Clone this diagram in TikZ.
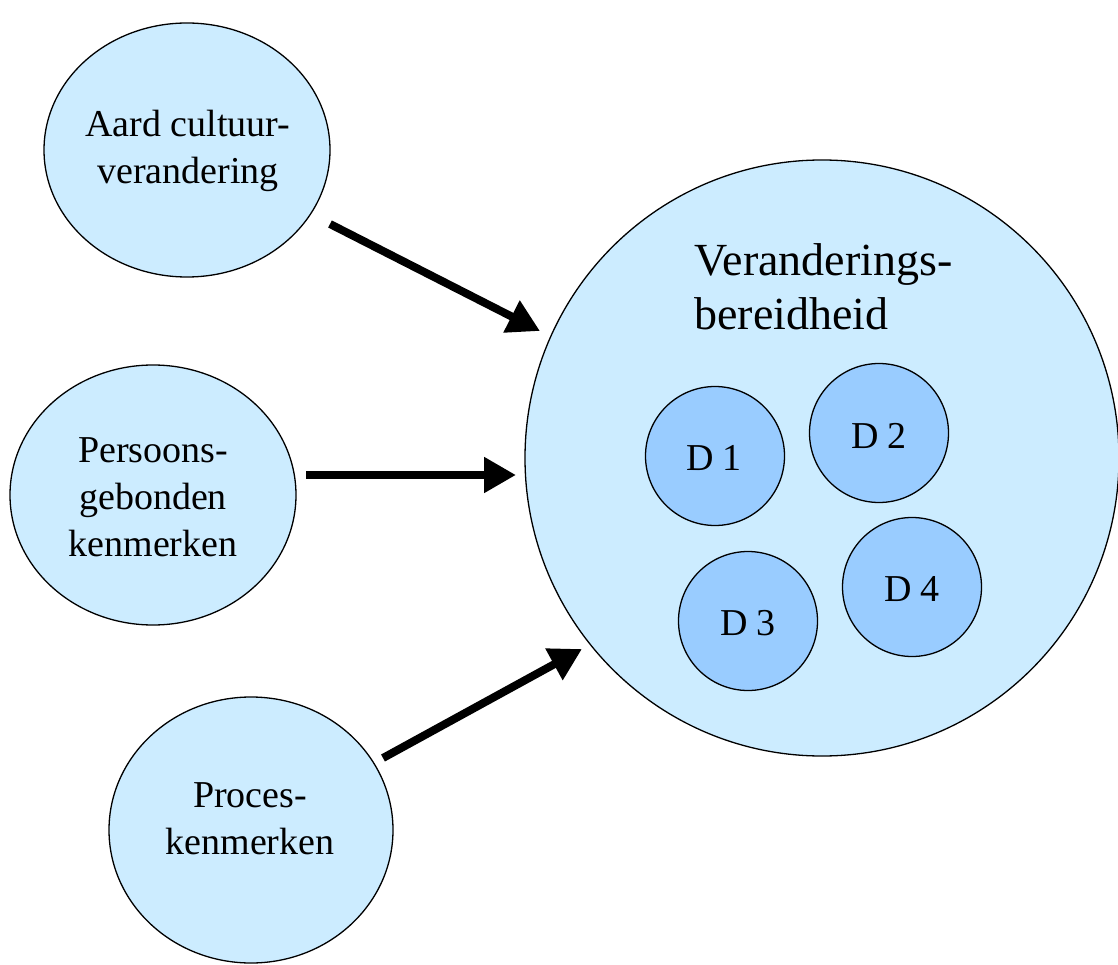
\documentclass[tikz,border=0pt]{standalone}
\usepackage{fontspec}
\setmainfont{Liberation Serif}
\usetikzlibrary{shapes.geometric,arrows.meta}
\definecolor{lightblue}{RGB}{204,236,255}
\definecolor{midblue}{RGB}{153,204,255}
\tikzset{
  bubble/.style={ellipse, draw=black, line width=1.3pt, fill=lightblue, inner sep=0pt, align=center},
  dcirc/.style={circle, draw=black, line width=1.3pt, fill=midblue, inner sep=0pt, minimum size=139pt},
  lbl/.style={font=\fontsize{38}{47}\selectfont, align=center},
  dlbl/.style={font=\fontsize{38}{40}\selectfont},
  bigarrow/.style={line width=8pt, -{Triangle[length=32pt,width=34pt]}}
}
\begin{document}
\begin{tikzpicture}[x=1pt,y=-1pt]
\useasboundingbox (0,0) rectangle (1118,965);
% outer ellipses
\node[bubble, minimum width=286pt, minimum height=254pt] (aard) at (187,150) {};
\node[bubble, minimum width=286pt, minimum height=260pt] (pers) at (153,495) {};
\node[bubble, minimum width=284pt, minimum height=266pt] (proc) at (251,830) {};
\node[bubble, minimum width=594pt, minimum height=596pt] (big) at (822,458) {};
% labels
\node[lbl] (aardt) at (188,151) {Aard cultuur-\\verandering};
\node[lbl] (perst) at (153,497) {Persoons-\\gebonden\\kenmerken};
\node[lbl] (proct) at (250,819) {Proces-\\kenmerken};
\node[font=\fontsize{46}{54}\selectfont, align=left, anchor=west] (bigt) at (691,287) {Veranderings-\\bereidheid};
% inner circles
\node[dcirc] (d1) at (715,456) {};
\node[dcirc] (d2) at (879,433) {};
\node[dcirc] (d3) at (748,621) {};
\node[dcirc] (d4) at (912,587) {};
\node[dlbl] (d1t) at (714,458) {D 1};
\node[dlbl] (d2t) at (879,436) {D 2};
\node[dlbl] (d3t) at (748,623) {D 3};
\node[dlbl] (d4t) at (912,589) {D 4};
% arrows
\coordinate (a1s) at (330,224);
\coordinate (a1e) at (540,331);
\coordinate (a2s) at (306,475);
\coordinate (a2e) at (516,475);
\coordinate (a3s) at (383,758);
\coordinate (a3e) at (582,649);
\draw[bigarrow] (a1s) -- (a1e);
\draw[bigarrow] (a2s) -- (a2e);
\draw[bigarrow] (a3s) -- (a3e);
\end{tikzpicture}
\end{document}
